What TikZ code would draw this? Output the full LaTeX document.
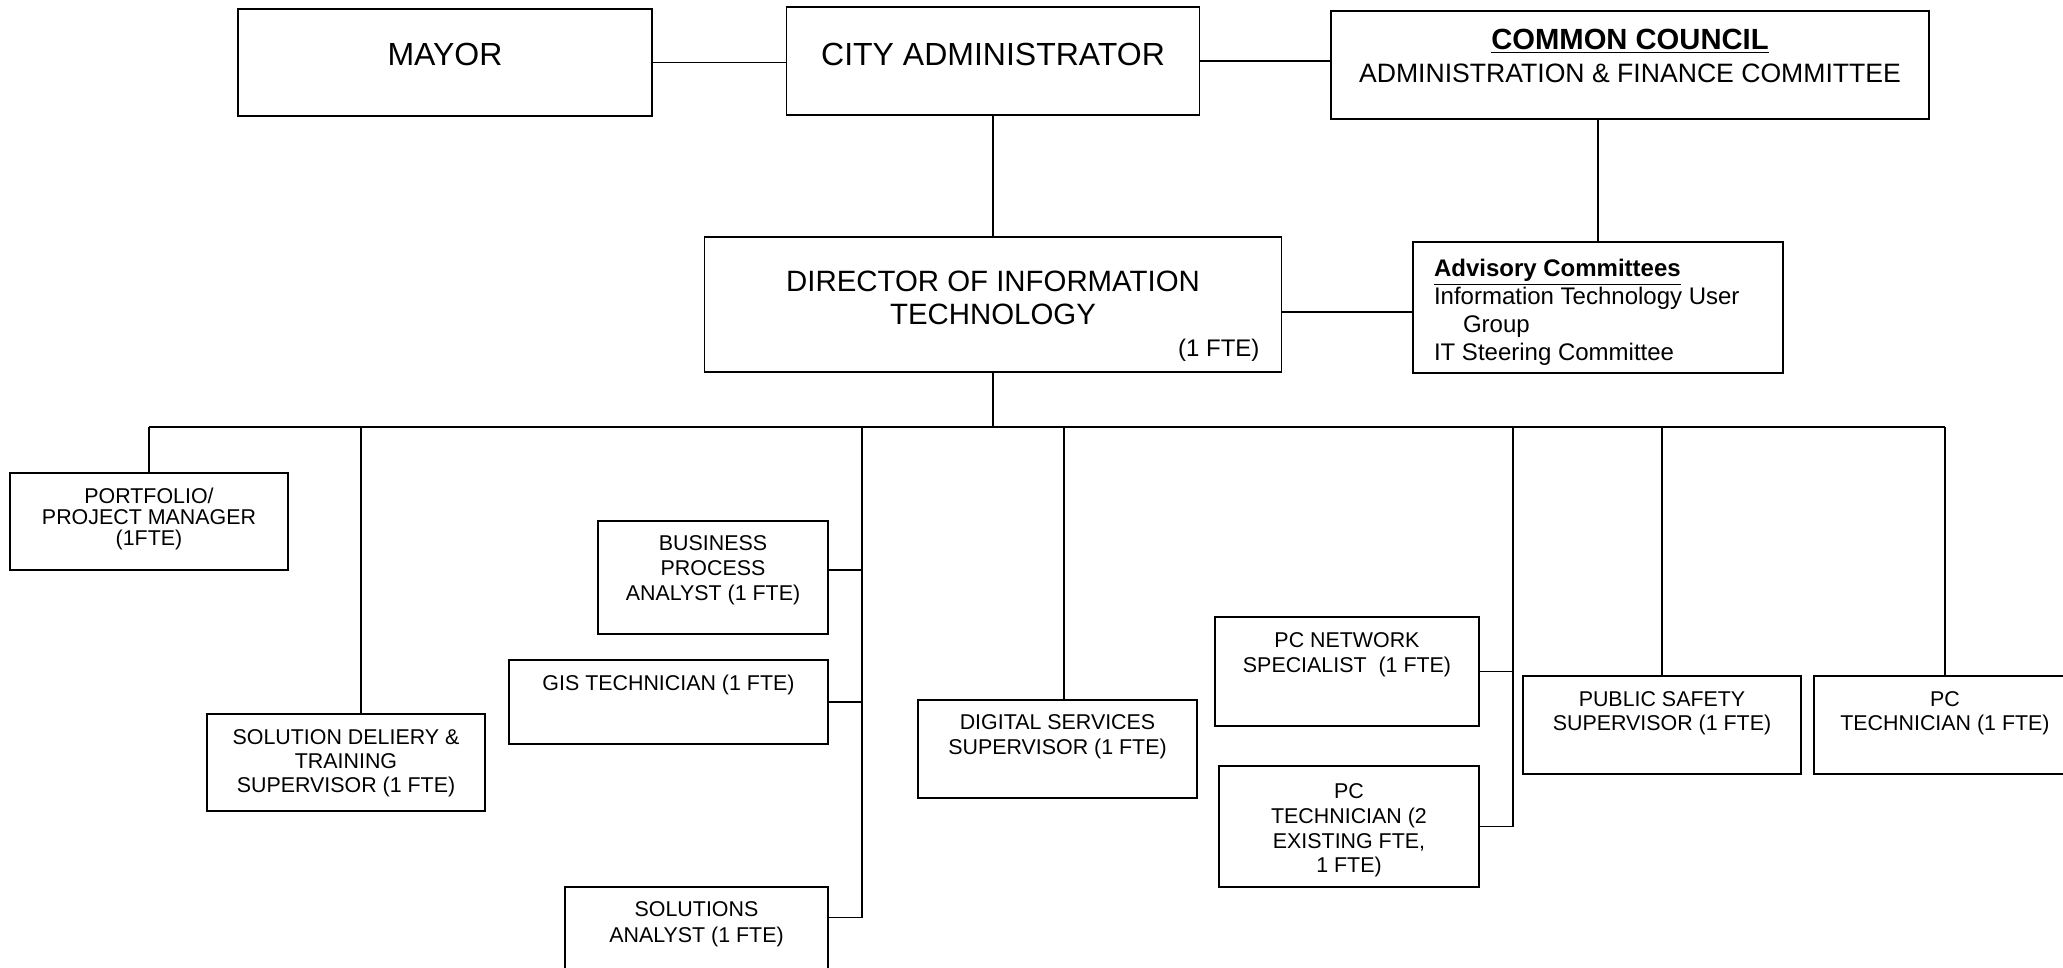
\documentclass[tikz,border=0pt]{standalone}
\usepackage{fontspec}
\setmainfont{Liberation Sans}
\usepackage{tikz}
\newcommand{\boxtxt}[4]{\parbox[c][#2][t]{#1}{\centering\vspace*{#3}#4\par}}
\newcommand{\boxtxtl}[5]{\parbox[c][#2][t]{#1}{\raggedright\leftskip=#4\vspace*{#3}#5\par}}
\newcommand{\bigsz}{\fontsize{16}{19}\selectfont}
\newcommand{\dirsz}{\fontsize{14.7}{16.3}\selectfont}
\newcommand{\midsz}{\fontsize{12}{14}\selectfont}
\newcommand{\smsz}{\fontsize{10.7}{12.3}\selectfont}

\begin{document}
\begin{tikzpicture}[x=0.5pt,y=-0.5pt,
  box/.style={draw,line width=0.8pt,inner sep=0pt},
  link/.style={line width=0.7pt}]
\useasboundingbox (0,0) rectangle (2063,968);
\clip (0,0) rectangle (2063,968);
%\draw[help lines] (0,0) grid[step=100] (2063,968);
\node(mayor) at (445,62.5)[box] {\boxtxt{207pt}{53.5pt}{17pt}{\bigsz MAYOR}};
\node(cityadm) at (993,61)[box] {\boxtxt{206.5pt}{54pt}{18pt}{\bigsz CITY ADMINISTRATOR}};
\node(council) at (1630,65)[box] {\boxtxt{299pt}{54pt}{9pt}{\fontsize{13.3}{16.5}\selectfont{\fontsize{14.6}{16.5}\selectfont\underline{\textbf{COMMON COUNCIL}}}\\ADMINISTRATION \& FINANCE COMMITTEE}};
\node(director) at (993,304.5)[box] {\boxtxt{288.5pt}{67.5pt}{17pt}{\dirsz DIRECTOR OF INFORMATION\\TECHNOLOGY\\\hfill{\fontsize{12}{14}\selectfont(1 FTE)}\hspace*{11pt}}};
\node(advisory) at (1598,307.5)[box] {\boxtxtl{185pt}{65.5pt}{8.5pt}{10.5pt}{\midsz\underline{\textbf{Advisory Committees}}\\Information Technology User\\\hspace*{14.5pt}Group\\IT Steering Committee}};

\node(portfolio) at (149,521.5)[box] {\boxtxt{139pt}{48.5pt}{7.5pt}{\fontsize{10.7}{10.5}\selectfont PORTFOLIO/\\PROJECT MANAGER\\(1FTE)}};
\node(soldel) at (346,762.5)[box] {\boxtxt{139pt}{48.5pt}{8pt}{\fontsize{10.7}{11.8}\selectfont SOLUTION DELIERY \&\\TRAINING\\SUPERVISOR (1 FTE)}};
\node(bizproc) at (713,577.5)[box] {\boxtxt{115pt}{56.5pt}{7.5pt}{\fontsize{10.7}{12.5}\selectfont BUSINESS\\PROCESS\\ANALYST (1 FTE)}};
\node(gis) at (668.5,702)[box] {\boxtxt{159.5pt}{42pt}{7.5pt}{\smsz GIS TECHNICIAN (1 FTE)}};
\node(solan) at (696.5,937)[box] {\boxtxt{131.5pt}{50pt}{7.5pt}{\fontsize{10.7}{13}\selectfont SOLUTIONS\\ANALYST (1 FTE)}};
\node(digital) at (1057.5,749)[box] {\boxtxt{139.5pt}{49pt}{7.5pt}{\fontsize{10.7}{12.5}\selectfont DIGITAL SERVICES\\SUPERVISOR (1 FTE)}};
\node(pcnet) at (1347,671.5)[box] {\boxtxt{132pt}{54.5pt}{8pt}{\fontsize{10.7}{12.5}\selectfont PC NETWORK\\SPECIALIST\ \ (1 FTE)}};
\node(pctech2) at (1349,826.5)[box] {\boxtxt{130pt}{60.5pt}{9pt}{\smsz PC\\TECHNICIAN (2\\EXISTING FTE,\\1 FTE)}};
\node(pubsafe) at (1662,725)[box] {\boxtxt{139pt}{49pt}{8pt}{\fontsize{10.7}{12}\selectfont PUBLIC SAFETY\\SUPERVISOR (1 FTE)}};
\node(pctech1) at (1945,725)[box] {\boxtxt{131pt}{49pt}{8pt}{\fontsize{10.7}{12}\selectfont PC\\TECHNICIAN (1 FTE)}};

\coordinate(busL) at (149,427);
\coordinate(busR) at (1945,427);
\coordinate(bizbus) at (862,427);
\coordinate(pcbus) at (1513,427);

\draw[link] (mayor.east) -- (mayor.east -| cityadm.west);
\draw[link] (cityadm.east) -- (cityadm.east -| council.west);
\draw[link] (cityadm.south) -- (cityadm.south |- director.north);
\draw[link] (advisory.north) -- (advisory.north |- council.south);
\draw[link] ([yshift=-3.75pt]director.east) -- ([yshift=-3.75pt]director.east -| advisory.west);
\draw[link] (director.south) -- (director.south |- busL);
\draw[link] (busL) -- (busR);
\draw[link] (portfolio.north) -- (portfolio.north |- busL);
\draw[link] ([xshift=7.5pt]soldel.north) -- ([xshift=7.5pt]soldel.north |- busL);
\draw[link] (bizbus) |- ([yshift=-15.5pt]solan.north east);
\draw[link] ([yshift=3.75pt]bizproc.east) -- ([yshift=3.75pt]bizproc.east -| bizbus);
\draw[link] (gis.east) -- (gis.east -| bizbus);
\draw[link] ([xshift=3.25pt]digital.north) -- ([xshift=3.25pt]digital.north |- busL);
\draw[link] (pcbus) |- (pctech2.east);
\draw[link] (pcnet.east) -- (pcnet.east -| pcbus);
\draw[link] (pubsafe.north) -- (pubsafe.north |- busL);
\draw[link] (pctech1.north) -- (pctech1.north |- busL);
\end{tikzpicture}
\end{document}
